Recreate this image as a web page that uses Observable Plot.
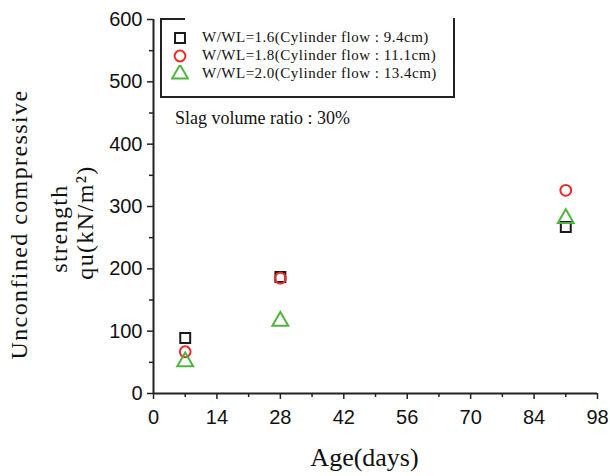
<!DOCTYPE html>
<html>
<head>
<meta charset="utf-8">
<script src="https://cdn.jsdelivr.net/npm/d3@7"></script>
<script src="https://cdn.jsdelivr.net/npm/@observablehq/plot@0.6"></script>
<style>
  html, body { margin: 0; padding: 0; background: #fff; }
  #wrap { position: relative; width: 610px; height: 476px; }
  #legend { position: absolute; left: 160px; top: 18px; width: 291px; height: 78px;
    border-left: 2px solid #222; border-right: 2px solid #222; border-bottom: 2px solid #222;
    font-family: "Liberation Serif", "Times New Roman", serif; font-size: 15px; letter-spacing: 0.5px; color: #111; }
  #legend .topseg { position: absolute; left: 0; top: 0; width: 23px; border-top: 2px solid #222; }
  #legend .row { position: absolute; left: 0; height: 18px; line-height: 18px; white-space: nowrap; }
  #legend .row svg { position: absolute; left: 9px; top: 1px; }
  #legend .row span { position: absolute; left: 40px; top: 0; }
  #note { position: absolute; left: 175px; top: 108px; font-family: "Liberation Serif", "Times New Roman", serif;
    font-size: 18px; color: #111; white-space: nowrap; }
</style>
</head>
<body>
<div id="wrap"></div>
<script>
// ---- data ----
const days = [7, 28, 91];
const seriesNames = [
  "W/WL=1.6(Cylinder flow : 9.4cm)",
  "W/WL=1.8(Cylinder flow : 11.1cm)",
  "W/WL=2.0(Cylinder flow : 13.4cm)"
];
const strengthWW16 = [89, 187, 267];
const strengthWW18 = [67, 185, 326];
const strengthWW20 = [51, 116, 281];
const seriesSymbols = ["square", "circle", "triangle"];
const seriesColors = ["#1a1a1a", "#ee2b2b", "#4fb43f"];
const xTicks = [0, 14, 28, 42, 56, 70, 84, 98];
const xMinorTicks = [7, 21, 35, 49, 63, 77, 91];
const yTicks = [0, 100, 200, 300, 400, 500, 600];
const yMinorTicks = [50, 150, 250, 350, 450, 550];
const noteText = "Slag volume ratio : 30%";
const xTitle = "Age(days)";
const yTitleLines = ["Unconfined compressive", "strength", "qu(kN/m²)"];

const allSeries = [strengthWW16, strengthWW18, strengthWW20];
const rows = [];
allSeries.forEach((vals, i) => vals.forEach((v, j) => rows.push({day: days[j], qu: v, series: i})));

const tickFont = "'Liberation Sans', Arial, sans-serif";
const serif = "'Liberation Serif', 'Times New Roman', serif";
const axisColor = "#222";

const dotMarks = [0, 1, 2].map(i => Plot.dot(rows.filter(d => d.series === i), {
  x: "day", y: "qu",
  symbol: () => seriesSymbols[i],
  stroke: seriesColors[i],
  strokeWidth: 2,
  fill: "none",
  r: [5.6, 5.4, 5.9][i]
}));

const plot = Plot.plot({
  width: 610,
  height: 476,
  marginLeft: 153,
  marginRight: 13,
  marginTop: 19,
  marginBottom: 83,
  style: {background: "#fff", overflow: "visible"},
  x: {domain: [0, 98]},
  y: {domain: [0, 600]},
  symbol: {type: "identity"},
  marks: [
    Plot.axisX(xMinorTicks, {tickSize: 4, tickFormat: () => "", stroke: axisColor, strokeWidth: 1.5, label: null}),
    Plot.axisX(xTicks, {tickSize: 6, tickPadding: 10, fontSize: 20, fontFamily: tickFont, fill: "#111", stroke: axisColor, strokeWidth: 1.5, label: null}),
    Plot.axisY(yMinorTicks, {tickSize: 4, tickFormat: () => "", stroke: axisColor, strokeWidth: 1.5, label: null}),
    Plot.axisY(yTicks, {tickSize: 6, tickPadding: 5, fontSize: 20, fontFamily: tickFont, fill: "#111", stroke: axisColor, strokeWidth: 1.5, label: null}),
    Plot.ruleX([0], {stroke: axisColor, strokeWidth: 2}),
    Plot.ruleY([0], {stroke: axisColor, strokeWidth: 2}),
    ...dotMarks,
    Plot.text([xTitle], {frameAnchor: "bottom", textAnchor: "middle", dx: -11, dy: 72, fontSize: 26, fontFamily: serif, fill: "#111", lineAnchor: "bottom"}),
    Plot.text([yTitleLines[0]], {frameAnchor: "left", textAnchor: "middle", rotate: -90, dx: -127, dy: 18, fontSize: 24, fontFamily: serif, fill: "#111", lineAnchor: "bottom"}),
    Plot.text([yTitleLines[1]], {frameAnchor: "left", textAnchor: "middle", rotate: -90, dx: -87, dy: 22, fontSize: 24, fontFamily: serif, fill: "#111", lineAnchor: "bottom"}),
    Plot.text([yTitleLines[2]], {frameAnchor: "left", textAnchor: "middle", rotate: -90, dx: -61, dy: 16, fontSize: 24, fontFamily: serif, fill: "#111", lineAnchor: "bottom"})
  ]
});

// letter spacing for the y title
plot.querySelectorAll("text").forEach(t => {
  if (yTitleLines.includes(t.textContent)) t.setAttribute("letter-spacing", "1.4");
});

const wrap = document.getElementById("wrap");
wrap.appendChild(plot);

// legend (HTML overlay)
const legend = document.createElement("div");
legend.id = "legend";
legend.innerHTML = '<div class="topseg"></div>';
const rowTops = [10, 28, 46];
seriesNames.forEach((name, i) => {
  const row = document.createElement("div");
  row.className = "row";
  row.style.top = rowTops[i] + "px";
  const sym = d3.symbol(i === 0 ? d3.symbolSquare : i === 1 ? d3.symbolCircle : d3.symbolTriangle, Math.PI * Math.pow([5.6, 5.4, 5.9][i], 2))();
  row.innerHTML = `<svg width="18" height="18"><path transform="translate(9,9)" d="${sym}" fill="none" stroke="${seriesColors[i]}" stroke-width="2"/></svg><span>${name}</span>`;
  legend.appendChild(row);
});
wrap.appendChild(legend);

const note = document.createElement("div");
note.id = "note";
note.textContent = noteText;
wrap.appendChild(note);
</script>
</body>
</html>
